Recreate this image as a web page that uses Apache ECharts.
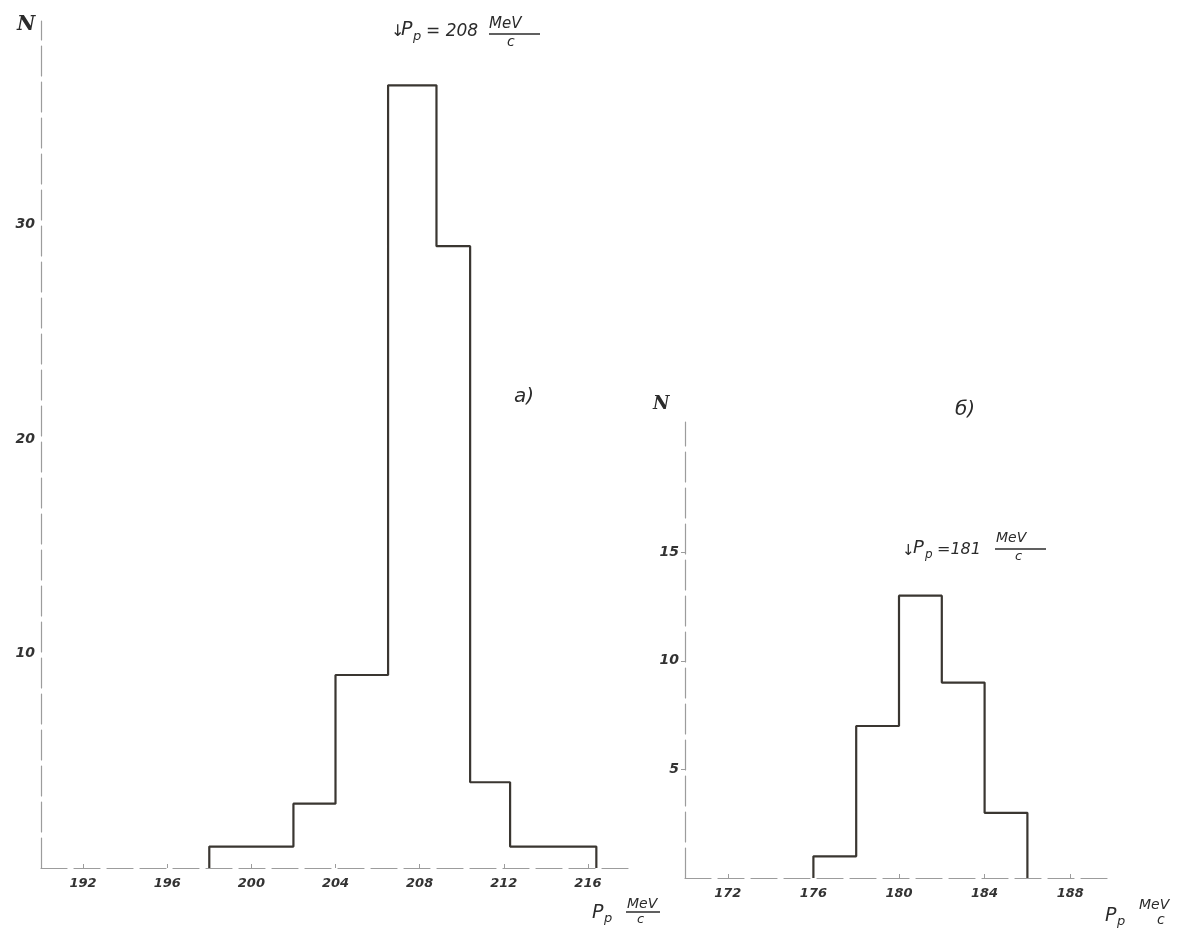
<!DOCTYPE html>
<html>
<head>
<meta charset="utf-8">
<script src="https://cdn.jsdelivr.net/npm/echarts@6/dist/echarts.min.js"></script>
<style>
html,body{margin:0;padding:0;background:#fff;}
#c{width:1183px;height:932px;}
</style>
</head>
<body>
<div id="c"></div>
<script>
// ---- data ----
// panel а)
var aEdges  = [198, 202, 204, 206.5, 208.8, 210.4, 212.3, 216.4];
var aCounts = [1, 3, 9, 36.5, 29, 4, 1];
var aXTicks = [192, 196, 200, 204, 208, 212, 216];
var aYTicks = [10, 20, 30];
// panel б)
var bEdges  = [176, 178, 180, 182, 184, 186];
var bCounts = [1, 7, 13, 9, 3];
var bXTicks = [172, 176, 180, 184, 188];
var bYTicks = [5, 10, 15];

function histPoints(edges, counts){
  var pts = [[edges[0], 0]];
  for (var i = 0; i < counts.length; i++){
    pts.push([edges[i], counts[i]]);
    pts.push([edges[i+1], counts[i]]);
  }
  pts.push([edges[edges.length-1], 0]);
  return pts;
}

var INK = '#3a3631';
var TXT = '#2b2b2b';
var AX = '#9c9c9c';
var FONT = 'DejaVu Sans';

function xAxisCfg(idx, min, max, ticks, margin){
  return {
    gridIndex: idx, type: 'value', min: min, max: max,
    axisLine: {show: true, lineStyle: {color: AX, width: 1.2, type: [26, 7]}},
    axisTick: {show: true, inside: true, length: 4, customValues: ticks, lineStyle: {color: AX}},
    axisLabel: {customValues: ticks, margin: margin, color: '#333', fontFamily: FONT,
                fontStyle: 'italic', fontWeight: 'bold', fontSize: 13},
    splitLine: {show: false}
  };
}
function yAxisCfg(idx, max, ticks, margin, tickLen){
  return {
    gridIndex: idx, type: 'value', min: 0, max: max,
    axisLine: {show: true, lineStyle: {color: AX, width: 1.2, type: [30, 6]}},
    axisTick: {show: tickLen > 0, length: tickLen, customValues: ticks, lineStyle: {color: AX}},
    axisLabel: {customValues: ticks, margin: margin, color: '#333', fontFamily: FONT,
                fontStyle: 'italic', fontWeight: 'bold', fontSize: 14},
    splitLine: {show: false}
  };
}

function txt(x, y, s, size, extra){
  var st = {text: s, x: x, y: y, fill: TXT, fontFamily: FONT, fontStyle: 'italic',
            fontSize: size, textAlign: 'left', textVerticalAlign: 'middle'};
  if (extra) for (var k in extra) st[k] = extra[k];
  return {type: 'text', style: st, silent: true};
}
function bar(x1, x2, y){
  return {type: 'line', shape: {x1: x1, y1: y, x2: x2, y2: y},
          style: {stroke: TXT, lineWidth: 1.3}, silent: true};
}

var chart = echarts.init(document.getElementById('c'), null, {renderer: 'canvas'});
chart.setOption({
  animation: false,
  backgroundColor: '#ffffff',
  grid: [
    {left: 41, top: 21, width: 589, height: 847},
    {left: 685, top: 422, width: 428, height: 456}
  ],
  xAxis: [
    xAxisCfg(0, 190, 218, aXTicks, 9),
    xAxisCfg(1, 170, 190, bXTicks, 9)
  ],
  yAxis: [
    yAxisCfg(0, 39.5, aYTicks, 6, 0),
    yAxisCfg(1, 21, bYTicks, 6, 4)
  ],
  series: [
    {type: 'line', xAxisIndex: 0, yAxisIndex: 0, data: histPoints(aEdges, aCounts),
     symbol: 'none', lineStyle: {color: INK, width: 2.2}, silent: true},
    {type: 'line', xAxisIndex: 1, yAxisIndex: 1, data: histPoints(bEdges, bCounts),
     symbol: 'none', lineStyle: {color: INK, width: 2.2}, silent: true}
  ],
  graphic: [
    // axis titles N
    txt(17, 25, 'N', 20, {fontFamily: 'DejaVu Serif', fontWeight: 'bold'}),
    txt(653, 404, 'N', 18, {fontFamily: 'DejaVu Serif', fontWeight: 'bold'}),
    // panel labels
    txt(514, 397, 'а)', 20),
    txt(955, 410, 'б)', 20),
    // annotation a
    txt(391, 32, '↓', 16),
    txt(401, 30, 'P', 19),
    txt(413, 37, 'p', 13),
    txt(426, 32, '= 208', 17),
    txt(489, 24, 'MeV', 15),
    bar(489, 540, 34),
    txt(507, 42, 'c', 14),
    // annotation b
    txt(902, 551, '↓', 15),
    txt(913, 548, 'P', 18),
    txt(925, 555, 'p', 12),
    txt(937, 550, '=181', 16),
    txt(996, 538, 'MeV', 14),
    bar(995, 1046, 549),
    txt(1015, 557, 'c', 13),
    // x axis names
    txt(592, 913, 'P', 19),
    txt(604, 919, 'p', 13),
    txt(627, 904, 'MeV', 14),
    bar(626, 660, 912),
    txt(637, 920, 'c', 13),
    txt(1105, 916, 'P', 19),
    txt(1117, 922, 'p', 13),
    txt(1139, 905, 'MeV', 14),
    txt(1157, 920, 'c', 14)
  ]
});
</script>
</body>
</html>
